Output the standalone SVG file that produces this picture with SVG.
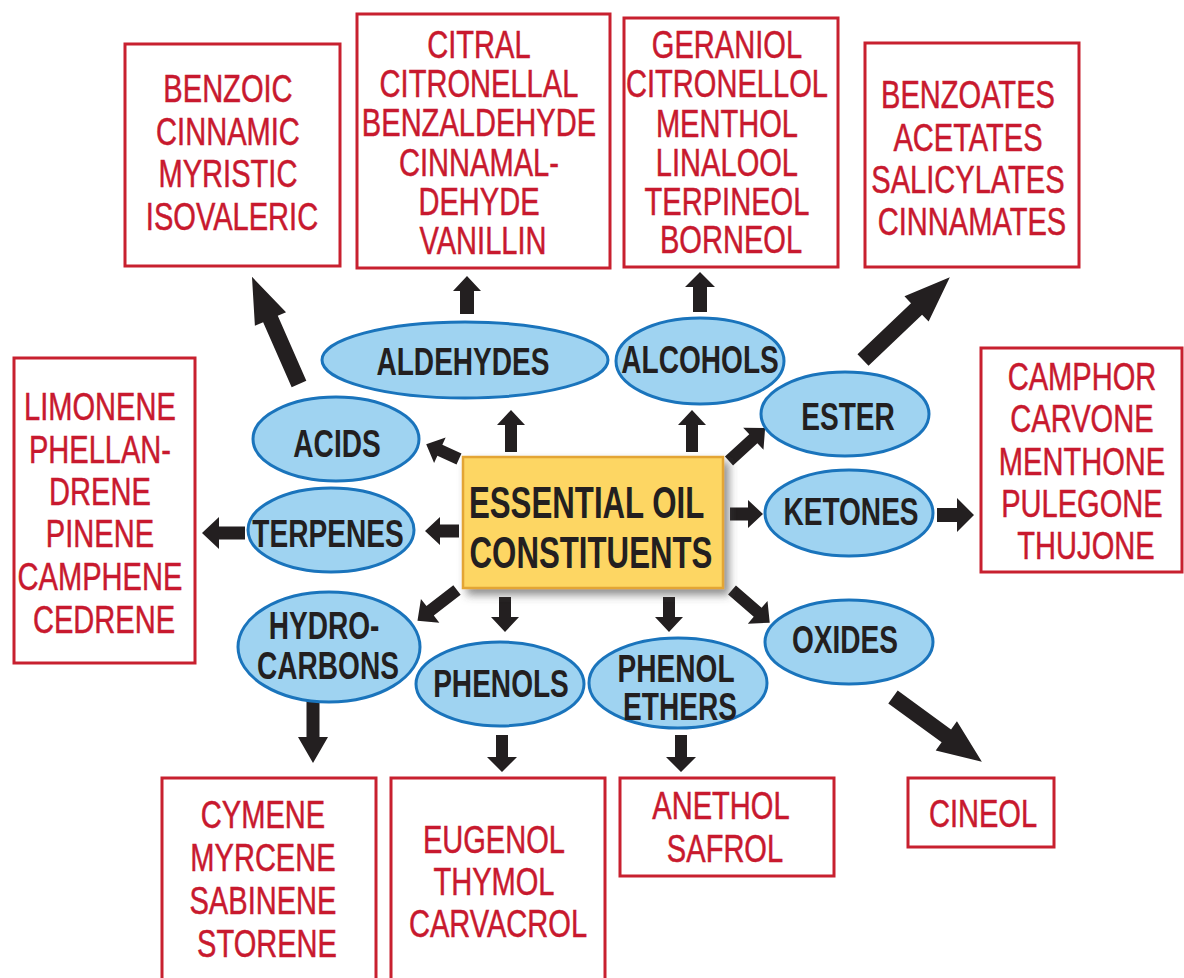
<svg xmlns="http://www.w3.org/2000/svg" width="1184" height="978" viewBox="0 0 1184 978">
  <defs>
    <style>
      .box { fill: #ffffff; stroke: #c8202f; stroke-width: 3; }
      .rt { font-family: "Liberation Sans", Arial, sans-serif; font-size: 38px; fill: #c8192e; stroke: #c8192e; stroke-width: 0.5; text-anchor: middle; }
      .oval { fill: #9fd3f1; stroke: #1a74bc; stroke-width: 3; }
      .bt { font-family: "Liberation Sans", Arial, sans-serif; font-weight: bold; font-size: 39px; fill: #231f20; text-anchor: middle; }
      .ct { font-family: "Liberation Sans", Arial, sans-serif; font-weight: bold; font-size: 44px; fill: #231f20; text-anchor: middle; }
      .core { fill: #fdd663; stroke: #e3a536; stroke-width: 2.5; }
      .arr { fill: #231f20; }
    </style>
    <filter id="shadow" x="-10%" y="-10%" width="130%" height="140%">
      <feDropShadow dx="5" dy="6" stdDeviation="4" flood-color="#4a4a4a" flood-opacity="0.6"/>
    </filter>
  </defs>

  <rect width="1184" height="978" fill="#ffffff"/>

  <!-- connectors: block arrows, each drawn along +x then placed and turned -->
  <g id="connectors">
    <path class="arr" d="M0,-6H27V-14L42,0L27,14V6H0Z" transform="translate(511,452) rotate(-90)"/>
    <path class="arr" d="M0,-6H27V-14L42,0L27,14V6H0Z" transform="translate(692,452) rotate(-90)"/>
    <path class="arr" d="M0,-6H21V-14L36,0L21,14V6H0Z" transform="translate(459,459) rotate(204.4)"/>
    <path class="arr" d="M0,-6.5H19V-14L34,0L19,14V6.5H0Z" transform="translate(459,531) rotate(180)"/>
    <path class="arr" d="M0,-6H34V-15L50,0L34,15V6H0Z" transform="translate(457,590) rotate(142.2)"/>
    <path class="arr" d="M0,-6H20V-14L35,0L20,14V6H0Z" transform="translate(505,597) rotate(90)"/>
    <path class="arr" d="M0,-6H20V-14L35,0L20,14V6H0Z" transform="translate(669,597) rotate(90)"/>
    <path class="arr" d="M0,-6H34V-15L50,0L34,15V6H0Z" transform="translate(732,590) rotate(41)"/>
    <path class="arr" d="M0,-6.5H18V-14L33,0L18,14V6.5H0Z" transform="translate(730,514)"/>
    <path class="arr" d="M0,-6H33V-15L49,0L33,15V6H0Z" transform="translate(729,461) rotate(-42.5)"/>

    <path class="arr" d="M0,-7H23V-14L38,0L23,14V7H0Z" transform="translate(467,314) rotate(-90)"/>
    <path class="arr" d="M0,-7H25V-15L40,0L25,15V7H0Z" transform="translate(700,312) rotate(-90)"/>
    <path class="arr" d="M0,-8H71V-17L117,0L71,17V8H0Z" transform="translate(299,384) rotate(-113.7)"/>
    <path class="arr" d="M0,-6.5H26V-16L43,0L26,16V6.5H0Z" transform="translate(245,533) rotate(180)"/>
    <path class="arr" d="M0,-8H74V-17.5L120,0L74,17.5V8H0Z" transform="translate(863,360) rotate(-43.65)"/>
    <path class="arr" d="M0,-7H20V-17L37,0L20,17V7H0Z" transform="translate(937,515)"/>
    <path class="arr" d="M0,-6.5H40V-15L66,0L40,15V6.5H0Z" transform="translate(313,697) rotate(90)"/>
    <path class="arr" d="M0,-6H22V-15L37,0L22,15V6H0Z" transform="translate(502,735) rotate(90)"/>
    <path class="arr" d="M0,-6H22V-15L37,0L22,15V6H0Z" transform="translate(681,735) rotate(90)"/>
    <path class="arr" d="M0,-8H66V-18L110,0L66,18V8H0Z" transform="translate(893,697) rotate(36.1)"/>
  </g>

  <!-- central node -->
  <g id="essential-oil-constituents">
    <rect class="core" x="463" y="457" width="260" height="131" filter="url(#shadow)"/>
    <text class="ct" transform="translate(591,0) scale(0.71,1)">
      <tspan x="0" y="518">ESSENTIAL OIL</tspan>
      <tspan x="0" y="568">CONSTITUENTS</tspan>
    </text>
  </g>

  <!-- constituent classes -->
  <g id="aldehydes">
    <ellipse class="oval" cx="465" cy="360" rx="143" ry="38"/>
    <text class="bt" transform="translate(463,0) scale(0.72,1)"><tspan x="0" y="375">ALDEHYDES</tspan></text>
  </g>
  <g id="alcohols">
    <ellipse class="oval" cx="700" cy="361" rx="84" ry="43"/>
    <text class="bt" transform="translate(700,0) scale(0.72,1)"><tspan x="0" y="373">ALCOHOLS</tspan></text>
  </g>
  <g id="acids">
    <ellipse class="oval" cx="336" cy="439" rx="83" ry="42"/>
    <text class="bt" transform="translate(337,0) scale(0.72,1)"><tspan x="0" y="457">ACIDS</tspan></text>
  </g>
  <g id="ester">
    <ellipse class="oval" cx="845" cy="414" rx="84" ry="42"/>
    <text class="bt" transform="translate(848,0) scale(0.72,1)"><tspan x="0" y="430">ESTER</tspan></text>
  </g>
  <g id="terpenes">
    <ellipse class="oval" cx="331" cy="530" rx="83" ry="42"/>
    <text class="bt" transform="translate(328,0) scale(0.72,1)"><tspan x="0" y="547">TERPENES</tspan></text>
  </g>
  <g id="ketones">
    <ellipse class="oval" cx="849" cy="513" rx="84" ry="43"/>
    <text class="bt" transform="translate(851,0) scale(0.72,1)"><tspan x="0" y="525">KETONES</tspan></text>
  </g>
  <g id="hydrocarbons">
    <ellipse class="oval" cx="329" cy="647" rx="91" ry="55"/>
    <text class="bt" transform="translate(328,0) scale(0.72,1)">
      <tspan x="0" y="639">HYDRO-</tspan>
      <tspan x="0" y="679">CARBONS</tspan>
    </text>
  </g>
  <g id="phenols">
    <ellipse class="oval" cx="500" cy="684" rx="84" ry="42"/>
    <text class="bt" transform="translate(501,0) scale(0.72,1)"><tspan x="0" y="697">PHENOLS</tspan></text>
  </g>
  <g id="phenol-ethers">
    <ellipse class="oval" cx="678" cy="683" rx="89" ry="45"/>
    <text class="bt" transform="translate(680,0) scale(0.72,1)">
      <tspan x="0" y="682">PHENOL</tspan>
      <tspan x="0" y="720">ETHERS</tspan>
    </text>
  </g>
  <g id="oxides">
    <ellipse class="oval" cx="849" cy="642" rx="84" ry="42"/>
    <text class="bt" transform="translate(845,0) scale(0.72,1)"><tspan x="0" y="653">OXIDES</tspan></text>
  </g>

  <!-- example compounds -->
  <g id="acid-examples">
    <rect class="box" x="125" y="44" width="215" height="222"/>
    <text class="rt" transform="translate(232,0) scale(0.765,1)">
      <tspan x="0" y="102">BENZOIC</tspan>
      <tspan x="0" y="145">CINNAMIC</tspan>
      <tspan x="0" y="187">MYRISTIC</tspan>
      <tspan x="0" y="230">ISOVALERIC</tspan>
    </text>
  </g>
  <g id="aldehyde-examples">
    <rect class="box" x="357" y="14" width="253" height="254"/>
    <text class="rt" transform="translate(483,0) scale(0.765,1)">
      <tspan x="0" y="58">CITRAL</tspan>
      <tspan x="0" y="97">CITRONELLAL</tspan>
      <tspan x="0" y="136">BENZALDEHYDE</tspan>
      <tspan x="0" y="176">CINNAMAL-</tspan>
      <tspan x="0" y="215">DEHYDE</tspan>
      <tspan x="0" y="254">VANILLIN</tspan>
    </text>
  </g>
  <g id="alcohol-examples">
    <rect class="box" x="624" y="18" width="214" height="249"/>
    <text class="rt" transform="translate(731,0) scale(0.765,1)">
      <tspan x="0" y="58">GERANIOL</tspan>
      <tspan x="0" y="97">CITRONELLOL</tspan>
      <tspan x="0" y="137">MENTHOL</tspan>
      <tspan x="0" y="176">LINALOOL</tspan>
      <tspan x="0" y="215">TERPINEOL</tspan>
      <tspan x="0" y="253">BORNEOL</tspan>
    </text>
  </g>
  <g id="ester-examples">
    <rect class="box" x="865" y="43" width="214" height="224"/>
    <text class="rt" transform="translate(972,0) scale(0.765,1)">
      <tspan x="0" y="108">BENZOATES</tspan>
      <tspan x="0" y="151">ACETATES</tspan>
      <tspan x="0" y="193">SALICYLATES</tspan>
      <tspan x="0" y="235">CINNAMATES</tspan>
    </text>
  </g>
  <g id="terpene-examples">
    <rect class="box" x="14" y="358" width="181" height="305"/>
    <text class="rt" transform="translate(104,0) scale(0.765,1)">
      <tspan x="0" y="420">LIMONENE</tspan>
      <tspan x="0" y="463">PHELLAN-</tspan>
      <tspan x="0" y="505">DRENE</tspan>
      <tspan x="0" y="547">PINENE</tspan>
      <tspan x="0" y="590">CAMPHENE</tspan>
      <tspan x="0" y="633">CEDRENE</tspan>
    </text>
  </g>
  <g id="ketone-examples">
    <rect class="box" x="981" y="348" width="201" height="224"/>
    <text class="rt" transform="translate(1086,0) scale(0.765,1)">
      <tspan x="0" y="390">CAMPHOR</tspan>
      <tspan x="0" y="432">CARVONE</tspan>
      <tspan x="0" y="475">MENTHONE</tspan>
      <tspan x="0" y="517">PULEGONE</tspan>
      <tspan x="0" y="559">THUJONE</tspan>
    </text>
  </g>
  <g id="hydrocarbon-examples">
    <rect class="box" x="162" y="778" width="214" height="215"/>
    <text class="rt" transform="translate(267,0) scale(0.765,1)">
      <tspan x="0" y="828">CYMENE</tspan>
      <tspan x="0" y="871">MYRCENE</tspan>
      <tspan x="0" y="914">SABINENE</tspan>
      <tspan x="0" y="957">STORENE</tspan>
    </text>
  </g>
  <g id="phenol-examples">
    <rect class="box" x="391" y="778" width="214" height="215"/>
    <text class="rt" transform="translate(498,0) scale(0.765,1)">
      <tspan x="0" y="853">EUGENOL</tspan>
      <tspan x="0" y="895">THYMOL</tspan>
      <tspan x="0" y="937">CARVACROL</tspan>
    </text>
  </g>
  <g id="phenol-ether-examples">
    <rect class="box" x="620" y="778" width="214" height="98"/>
    <text class="rt" transform="translate(725,0) scale(0.765,1)">
      <tspan x="0" y="819">ANETHOL</tspan>
      <tspan x="0" y="862">SAFROL</tspan>
    </text>
  </g>
  <g id="oxide-examples">
    <rect class="box" x="908" y="778" width="146" height="69"/>
    <text class="rt" transform="translate(983,0) scale(0.765,1)">
      <tspan x="0" y="827">CINEOL</tspan>
    </text>
  </g>
</svg>
